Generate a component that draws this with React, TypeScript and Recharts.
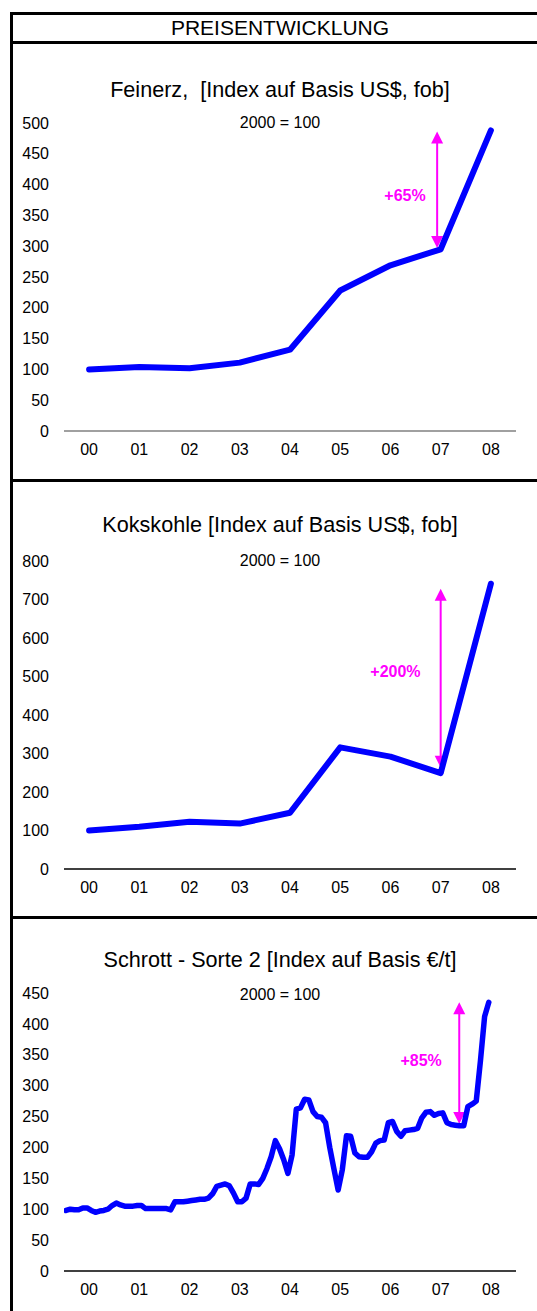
import React from "react";
import { LineChart, Line, XAxis, YAxis, ReferenceLine, ReferenceDot } from "recharts";

const FONT = "Arial, 'Liberation Sans', Helvetica, sans-serif";
const BLUE = "#0000FF";
const MAGENTA = "#FF00FF";

const headerTitle = "PREISENTWICKLUNG";
const baseNote = "2000 = 100";
const yearLabels = ["00", "01", "02", "03", "04", "05", "06", "07", "08"];

const feinerzTitle = "Feinerz,  [Index auf Basis US$, fob]";
const feinerzValues = [100, 104, 102, 111, 132, 228, 269, 295, 488];
const feinerzTicks = [0, 50, 100, 150, 200, 250, 300, 350, 400, 450, 500];
const feinerzArrow = { x: 7.43, from: 297, to: 486, label: "+65%", labelX: 6.79, labelY: 383 };

const kokskohleTitle = "Kokskohle [Index auf Basis US$, fob]";
const kokskohleValues = [100, 110, 123, 118, 146, 316, 292, 249, 741];
const kokskohleTicks = [0, 100, 200, 300, 400, 500, 600, 700, 800];
const kokskohleArrow = { x: 7.5, from: 263, to: 728, label: "+200%", labelX: 6.6, labelY: 514 };

const schrottTitle = "Schrott - Sorte 2 [Index auf Basis €/t]";
const schrottMonthly = [
  98, 100, 99, 99, 102, 102, 98, 95, 97, 98, 100, 106,
  110, 107, 105, 105, 105, 106, 106, 101, 101, 101, 101, 101,
  101, 99, 112, 112, 112, 113, 114, 115, 116, 116, 118, 125,
  137, 139, 141, 138, 126, 112, 112, 118, 141, 141, 140, 150,
  166, 185, 211, 198, 180, 158, 188, 262, 264, 278, 277, 258,
  250, 249, 240, 200, 165, 131, 164, 219, 218, 191, 185, 184,
  184, 193, 207, 211, 212, 240, 242, 226, 218, 227, 228, 229,
  231, 248, 257, 258, 252, 255, 256, 240, 237, 236, 235, 235,
  266, 270, 275, 340, 412, 435,
];
const schrottTicks = [0, 50, 100, 150, 200, 250, 300, 350, 400, 450];
const schrottArrow = { x: 7.87, from: 238, to: 435, label: "+85%", labelX: 7.11, labelY: 340 };

const yearTicks = yearLabels.map((_, i) => i + 0.5);
const feinerzData = feinerzValues.map((v, i) => ({ x: i + 0.5, v }));
const kokskohleData = kokskohleValues.map((v, i) => ({ x: i + 0.5, v }));
const schrottData = schrottMonthly.map((v, m) => ({ x: (m + 0.5) / 12, v }));

const arrowShape = (props: any) => {
  const { x1, y1, y2 } = props;
  const top = Math.min(y1, y2);
  const bottom = Math.max(y1, y2);
  const h = 12;
  const w = 6;
  return (
    <g>
      <line x1={x1} y1={top + h - 1} x2={x1} y2={bottom - h + 1} stroke={MAGENTA} strokeWidth={2} />
      <polygon points={`${x1},${top} ${x1 - w},${top + h} ${x1 + w},${top + h}`} fill={MAGENTA} />
      <polygon points={`${x1},${bottom} ${x1 - w},${bottom - h} ${x1 + w},${bottom - h}`} fill={MAGENTA} />
    </g>
  );
};

const labelShape = (text: string) => (props: any) => (
  <text
    x={props.cx}
    y={props.cy}
    textAnchor="middle"
    dominantBaseline="central"
    fill={MAGENTA}
    fontFamily={FONT}
    fontSize={16}
    fontWeight="bold"
  >
    {text}
  </text>
);

type PanelProps = {
  top: number;
  height: number;
  marginTop: number;
  data: { x: number; v: number }[];
  ticks: number[];
  max: number;
  arrow: { x: number; from: number; to: number; label: string; labelX: number; labelY: number };
  axisColor: string;
  strokeWidth: number;
};

const Panel = ({ top, height, marginTop, data, ticks, max, arrow, axisColor, strokeWidth }: PanelProps) => (
  <div style={{ position: "absolute", left: 0, top, width: 537, height }}>
    <LineChart
      width={537}
      height={height}
      data={data}
      margin={{ top: marginTop, right: 21, bottom: 5, left: 0 }}
    >
      <XAxis
        dataKey="x"
        type="number"
        domain={[0, 9]}
        ticks={yearTicks}
        interval={0}
        tickFormatter={(t: number) => yearLabels[Math.round(t - 0.5)]}
        tickLine={false}
        tickSize={0}
        tickMargin={13}
        height={30}
        axisLine={{ stroke: axisColor, strokeWidth: 1.5 }}
        tick={{ fill: "#000", fontSize: 16, fontFamily: FONT }}
        allowDataOverflow
      />
      <YAxis
        type="number"
        domain={[0, max]}
        ticks={ticks}
        interval={0}
        width={64}
        axisLine={false}
        tickLine={false}
        tickSize={0}
        tickMargin={15}
        tick={{ fill: "#000", fontSize: 16, fontFamily: FONT }}
        allowDataOverflow
      />
      <ReferenceLine
        segment={[
          { x: arrow.x, y: arrow.from },
          { x: arrow.x, y: arrow.to },
        ]}
        shape={arrowShape}
        ifOverflow="visible"
      />
      <ReferenceDot x={arrow.labelX} y={arrow.labelY} r={0} shape={labelShape(arrow.label)} ifOverflow="visible" />
      <Line
        type="linear"
        dataKey="v"
        stroke={BLUE}
        strokeWidth={strokeWidth}
        dot={false}
        activeDot={false}
        strokeLinejoin="round"
        strokeLinecap="round"
        isAnimationActive={false}
      />
    </LineChart>
  </div>
);

const textStyle = (top: number, size: number): React.CSSProperties => ({
  position: "absolute",
  left: 15,
  width: 530,
  top: top - 15,
  height: 30,
  lineHeight: "30px",
  textAlign: "center",
  fontFamily: FONT,
  fontSize: size,
  color: "#000",
  whiteSpace: "pre",
});

const hLine = (top: number): React.CSSProperties => ({
  position: "absolute",
  left: 11,
  top,
  width: 526,
  height: 3,
  background: "#000",
});

export default function App() {
  return (
    <div style={{ position: "absolute", left: 0, top: 0, width: 537, height: 1311, background: "#fff", overflow: "hidden" }}>
      <Panel top={100} height={366} marginTop={23} data={feinerzData} ticks={feinerzTicks} max={500} arrow={feinerzArrow} axisColor="#808080" strokeWidth={6} />
      <Panel top={540} height={364} marginTop={21} data={kokskohleData} ticks={kokskohleTicks} max={800} arrow={kokskohleArrow} axisColor="#000" strokeWidth={6} />
      <Panel top={970} height={336} marginTop={23} data={schrottData} ticks={schrottTicks} max={450} arrow={schrottArrow} axisColor="#000" strokeWidth={5.5} />

      <div style={textStyle(28, 21)}>{headerTitle}</div>
      <div style={textStyle(90, 21.6)}>{feinerzTitle}</div>
      <div style={textStyle(123, 16)}>{baseNote}</div>
      <div style={textStyle(525, 21.6)}>{kokskohleTitle}</div>
      <div style={textStyle(561, 16)}>{baseNote}</div>
      <div style={textStyle(960, 21.6)}>{schrottTitle}</div>
      <div style={textStyle(995, 16)}>{baseNote}</div>

      <div style={{ position: "absolute", left: 10, top: 12, width: 3, height: 1299, background: "#000" }} />
      <div style={hLine(12)} />
      <div style={hLine(41)} />
      <div style={hLine(479)} />
      <div style={hLine(916)} />
    </div>
  );
}
